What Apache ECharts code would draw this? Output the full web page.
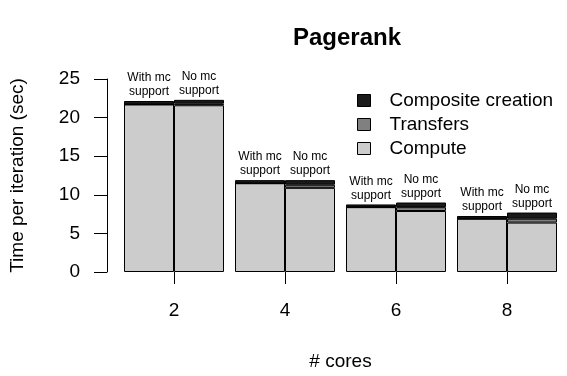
<!DOCTYPE html>
<html>
<head>
<meta charset="utf-8">
<script src="https://cdn.jsdelivr.net/npm/echarts@6/dist/echarts.min.js"></script>
<style>
  html, body { margin: 0; padding: 0; background: #fff; }
  #chart { width: 567px; height: 376px; }
</style>
</head>
<body>
<div id="chart"></div>
<script>
// Core counts on the x axis
var cores = ['2', '4', '6', '8'];

// Seconds per iteration, split by phase, with multicore support
var withCompute   = [21.7, 11.5, 8.4, 6.9];
var withTransfers = [0, 0, 0, 0];
var withComposite = [0.45, 0.4, 0.35, 0.35];

// Seconds per iteration, split by phase, without multicore support
var noCompute   = [21.6, 10.9, 7.9, 6.4];
var noTransfers = [0.2, 0.4, 0.5, 0.5];
var noComposite = [0.5, 0.6, 0.6, 0.8];

var yTicks = [0, 5, 10, 15, 20, 25];

var FONT = '"Liberation Sans", Arial, Helvetica, sans-serif';
var colors = { compute: '#cccccc', transfers: '#808080', composite: '#1a1a1a' };

function seg(name, stack, data, color, labelText) {
  var s = {
    name: name,
    type: 'bar',
    stack: stack,
    data: data,
    barWidth: 50,
    barGap: '0%',
    itemStyle: { color: color, borderColor: '#000', borderWidth: 1 },
    emphasis: { disabled: true }
  };
  if (labelText) {
    s.label = {
      show: true,
      position: 'top',
      distance: 2,
      formatter: labelText,
      fontFamily: FONT,
      fontSize: 12,
      lineHeight: 14,
      color: '#000'
    };
  }
  return s;
}

var chart = echarts.init(document.getElementById('chart'), null, { renderer: 'canvas' });
chart.setOption({
  animation: false,
  backgroundColor: '#fff',
  textStyle: { fontFamily: FONT },
  title: {
    text: 'Pagerank',
    left: 342,
    top: 21,
    textAlign: 'center',
    textStyle: { fontFamily: FONT, fontSize: 24, fontWeight: 'bold', color: '#000' }
  },
  legend: {
    orient: 'vertical',
    left: 352,
    top: 86,
    itemWidth: 13,
    itemHeight: 12,
    itemGap: 5,
    icon: 'rect',
    data: ['Composite creation', 'Transfers', 'Compute'],
    itemStyle: { borderColor: '#000', borderWidth: 1 },
    textStyle: { fontFamily: FONT, fontSize: 19, color: '#000', padding: [0, 0, 0, 14] },
    selectedMode: false
  },
  grid: { left: 118.5, right: 4.5, top: 79, bottom: 98, containLabel: false },
  xAxis: {
    type: 'category',
    data: cores,
    name: '# cores',
    nameLocation: 'middle',
    nameGap: 80,
    nameTextStyle: { fontFamily: FONT, fontSize: 19, color: '#000' },
    axisLine: { show: false },
    axisTick: { show: true, alignWithLabel: true, length: 12, lineStyle: { color: '#000', width: 1 } },
    axisLabel: { fontFamily: FONT, fontSize: 19, color: '#000', margin: 29 },
    splitLine: { show: false }
  },
  yAxis: {
    type: 'value',
    min: 0,
    max: 25,
    interval: 5,
    offset: 11.5,
    name: 'Time per iteration (sec)',
    nameLocation: 'middle',
    nameGap: 80,
    nameTextStyle: { fontFamily: FONT, fontSize: 19, color: '#000' },
    axisLine: { show: true, lineStyle: { color: '#000', width: 1 } },
    axisTick: { show: true, length: 13, lineStyle: { color: '#000', width: 1 } },
    axisLabel: {
      fontFamily: FONT, fontSize: 19, color: '#000', margin: 27,
      formatter: function (v) { return yTicks.indexOf(v) >= 0 ? String(v) : ''; }
    },
    splitLine: { show: false }
  },
  series: [
    seg('Compute', 'with', withCompute, colors.compute),
    seg('Transfers', 'with', withTransfers, colors.transfers),
    seg('Composite creation', 'with', withComposite, colors.composite, 'With mc\nsupport'),
    seg('Compute', 'no', noCompute, colors.compute),
    seg('Transfers', 'no', noTransfers, colors.transfers),
    seg('Composite creation', 'no', noComposite, colors.composite, 'No mc\nsupport')
  ]
});
</script>
</body>
</html>
